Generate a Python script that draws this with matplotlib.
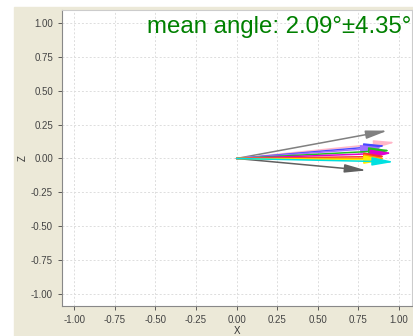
import matplotlib.pyplot as plt
from matplotlib.patches import Rectangle

plt.rcParams['font.family'] = ['Liberation Sans', 'DejaVu Sans']

# arrow end points (all start at the origin)
end_x = [0.93, 0.80, 0.98, 0.92, 0.90, 0.95, 0.96, 0.92, 0.92, 0.92, 0.97]
end_z = [0.205, -0.088, 0.12, 0.095, 0.08, 0.06, 0.04, 0.015, 0.0, -0.01, -0.025]
colors = ['#808080', '#606060', '#ffb6c8', '#4848ff', '#a070ff', '#20c020',
          '#e000d0', '#ff3030', '#ff9900', '#ffee00', '#00e0e0']

ticks = [-1.00, -0.75, -0.50, -0.25, 0.00, 0.25, 0.50, 0.75, 1.00]
title_text = 'mean angle: 2.09°±4.35°'

fig = plt.figure(figsize=(4.14, 3.36), dpi=100)
fig.patch.set_facecolor('white')
bg = Rectangle((14 / 414, 0), 1, 1 - 7 / 336,
               transform=fig.transFigure, color='#ece9d8', zorder=-10)
fig.add_artist(bg)

ax = fig.add_axes([62 / 414, 30 / 336, 350 / 414, 296 / 336])
ax.set_zorder(1)
ax.set_facecolor('white')
ax.set_xlim(-1.075, 1.08)
ax.set_ylim(-1.086, 1.093)
ax.set_xticks(ticks)
ax.set_yticks(ticks)
ax.set_xticklabels([f'{t:.2f}' for t in ticks])
ax.set_yticklabels([f'{t:.2f}' for t in ticks])
ax.tick_params(labelsize=7, colors='#444444', length=3, width=0.6)
ax.grid(True, color='#dddddd', linestyle=(0, (2, 2)), linewidth=0.7)
ax.set_axisbelow(True)
for s in ['left', 'bottom']:
    ax.spines[s].set_color('#888888')
for s in ['top', 'right']:
    ax.spines[s].set_color('#cccccc')

for x, z, c in zip(end_x, end_z, colors):
    ax.annotate('', xy=(x, z), xytext=(0, 0),
                arrowprops=dict(arrowstyle='-|>,head_length=1.3,head_width=0.25',
                                color=c, lw=1.1, shrinkA=0, shrinkB=0))

ax.text(0.997, 0.98, title_text, transform=ax.transAxes, ha='right', va='top',
        color='#008000', fontsize=17.3)
ax.set_xlabel('X', fontsize=7, color='#333333', labelpad=1)
ax.set_ylabel('Z', fontsize=7, color='#333333', labelpad=2)

plt.savefig('out.png', dpi=100)
